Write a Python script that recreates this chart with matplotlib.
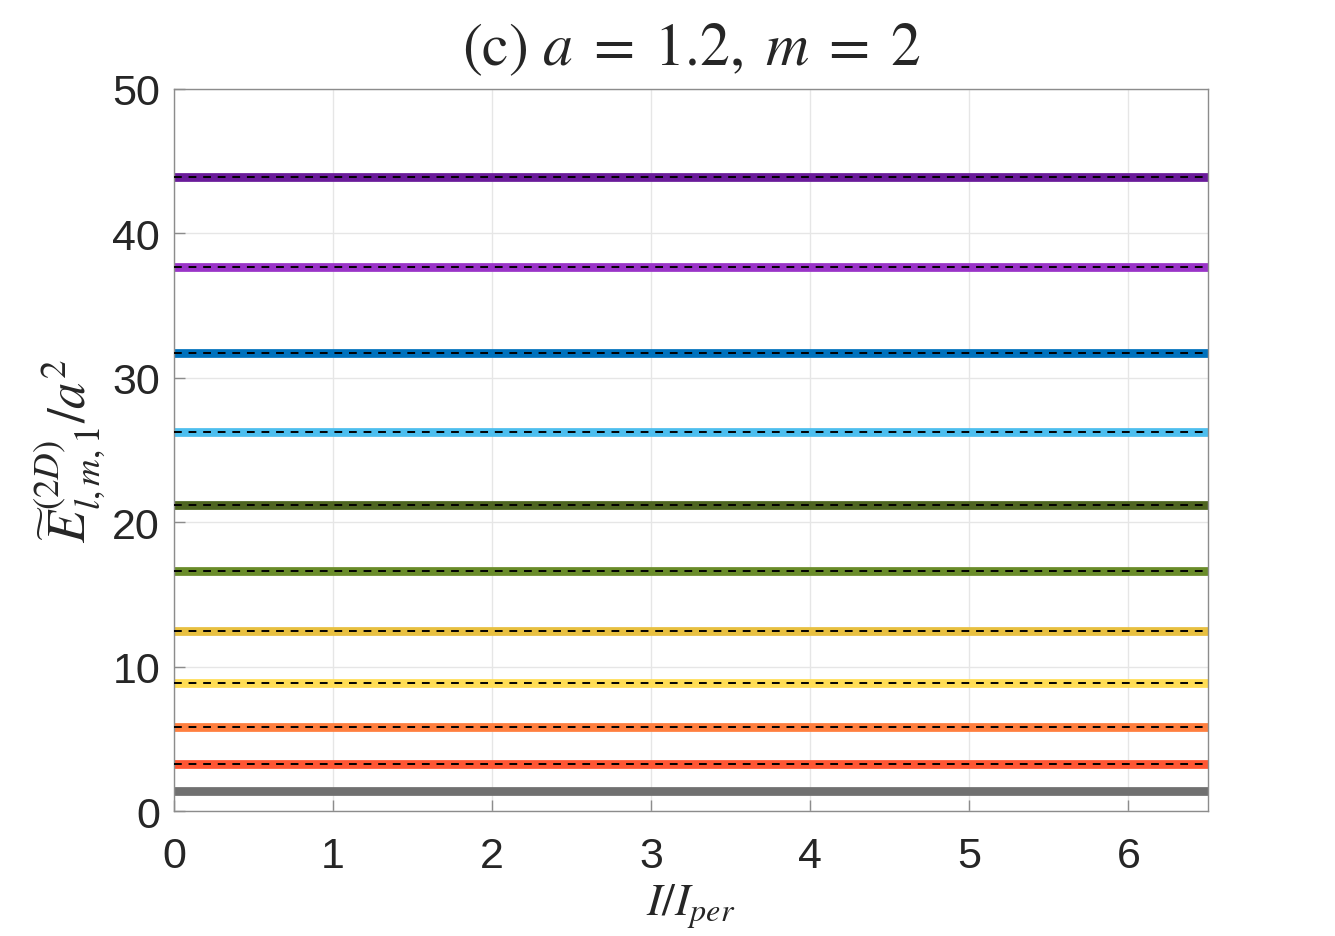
import numpy as np
import matplotlib
matplotlib.use('Agg')
import matplotlib.pyplot as plt

# Niveaux d'energie, du plus haut au plus bas
x_vals = [0, 0.5, 1, 1.5, 2, 2.5, 3, 3.5, 4, 4.5, 5, 5.5, 6, 6.5]
levels = [43.92, 37.66, 31.74, 26.27, 21.21, 16.61, 12.47, 8.89, 5.80, 3.28, 1.39]
level_colors = ['#6a1b9a', '#9a34c8', '#0072bd', '#4dbeee', '#4f6521',
                '#6a8c2a', '#e8c040', '#ffdd55', '#ff7f3f', '#ff5733', '#707070']
# approximation analytique (tirets noirs) : pas pour le niveau fondamental gris
approx = [43.92, 37.66, 31.74, 26.27, 21.21, 16.61, 12.47, 8.89, 5.80, 3.28]

xticks = [0, 1, 2, 3, 4, 5, 6]
yticks = [0, 10, 20, 30, 40, 50]

plt.rcParams['mathtext.fontset'] = 'stix'
plt.rcParams['font.family'] = ['Liberation Sans', 'DejaVu Sans']

fig = plt.figure(figsize=(13.35, 9.37), dpi=100, facecolor='white')
ax = fig.add_axes([0.1303, 0.1334, 0.7746, 0.7706])

for val, col in zip(levels, level_colors):
    ax.plot(x_vals, [val] * len(x_vals), color=col, lw=6.3, solid_capstyle='butt', zorder=2)
for val in approx:
    ax.plot(x_vals, [val] * len(x_vals), color='black', lw=1.4,
            linestyle=(0, (4.0, 3.5)), zorder=3)

ax.set_xlim(0, 6.5)
ax.set_ylim(0, 50)
ax.set_xticks(xticks)
ax.set_yticks(yticks)
ax.grid(True, color='#e6e6e6', lw=1.0, zorder=0)
ax.set_axisbelow(True)
for sp in ax.spines.values():
    sp.set_color('#8c8c8c')
    sp.set_linewidth(1.0)
ax.tick_params(direction='in', length=8, width=1.0, color='#8c8c8c',
               labelsize=31, labelcolor='#262626', pad=10, top=False, right=False)
ax.tick_params(axis='x', pad=18)

ax.set_title(r'$\mathrm{(c)}\ a\;=\;1.2,\;m\;=\;2$', fontsize=43, pad=18, color='#262626')
ax.set_xlabel(r'$I/I_{per}$', fontsize=33, color='#262626', labelpad=4)
ax.set_ylabel(r'$\widetilde{E}^{(2D)}_{l,m,1}/a^2$', fontsize=38, color='#262626', labelpad=4)

plt.savefig('out.png', dpi=100, facecolor='white')
